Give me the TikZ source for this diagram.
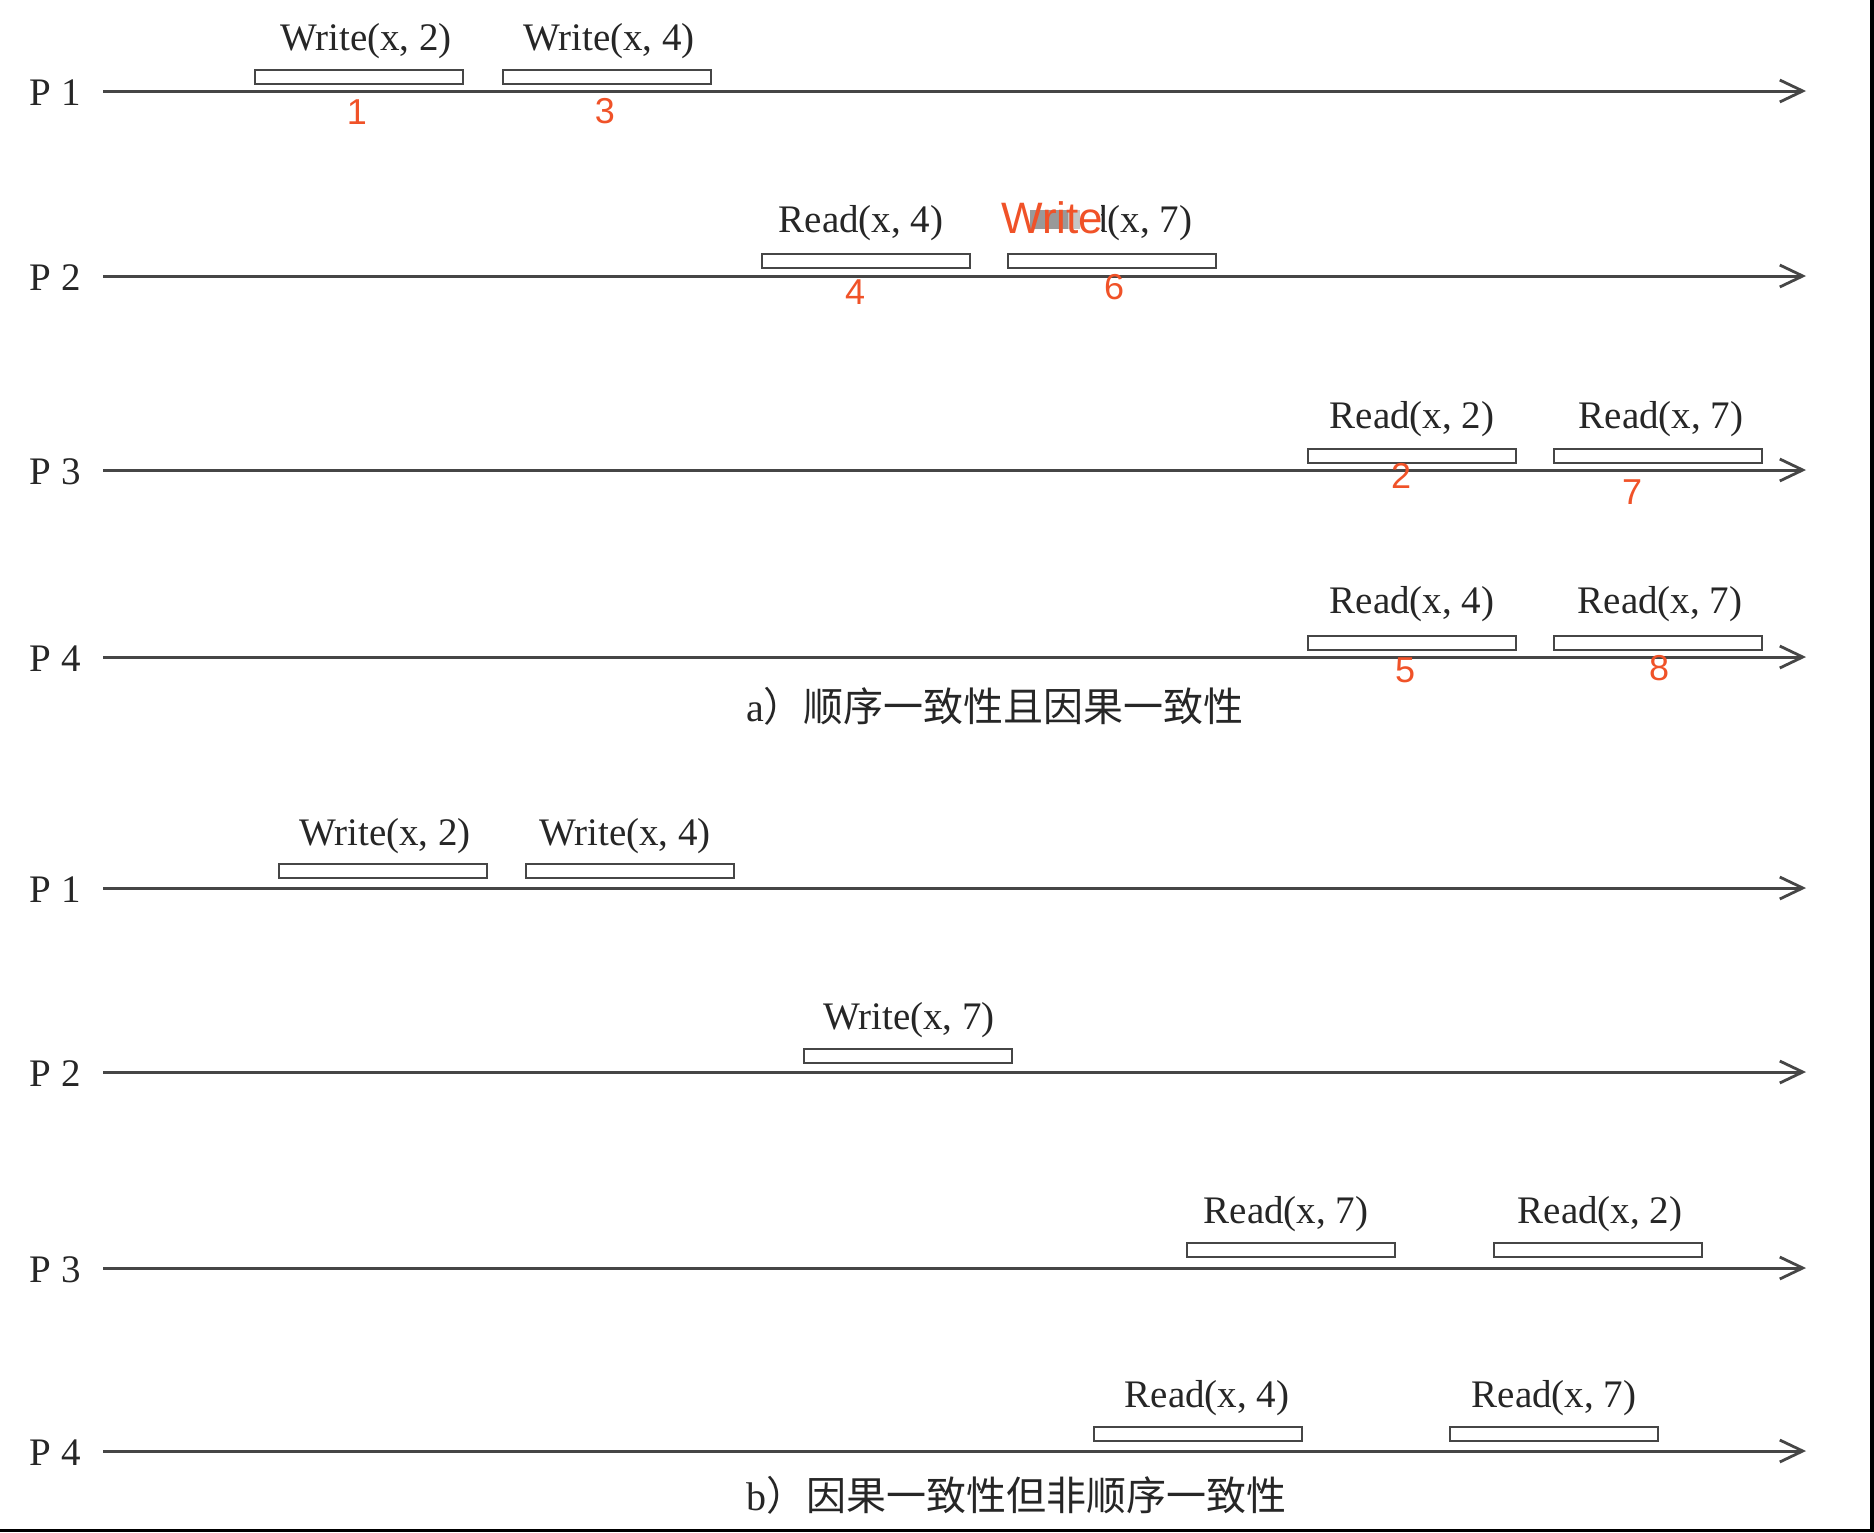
\documentclass[tikz,border=0pt]{standalone}
\usepackage{fontspec}
\setmainfont{Liberation Serif}
\setsansfont{Liberation Sans}
\newfontfamily\cjk{Noto Sans CJK SC}
\usetikzlibrary{arrows.meta}
\definecolor{ann}{RGB}{240,82,40}
\definecolor{ln}{RGB}{70,70,70}
\begin{document}
\begin{tikzpicture}[x=0.5pt,y=-0.5pt,
  tl/.style={draw=ln, line width=1.5pt, -{Straight Barb[length=11.5pt,width=11pt,line width=1.4pt]}},
  opbox/.style={draw=ln, line width=1pt, minimum width=104pt, minimum height=7pt, inner sep=0pt, fill=white},
  lbl/.style={anchor=base, inner sep=0pt, font=\fontsize{19.5}{20}\selectfont, text=black!85},
  plbl/.style={anchor=base west, inner sep=0pt, font=\fontsize{19.5}{20}\selectfont, text=black!85},
  num/.style={inner sep=0pt, font=\sffamily\fontsize{18}{18}\selectfont, text=ann},
  capt/.style={inner sep=0pt, font=\fontsize{20}{22}\selectfont, text=black!85}]

\useasboundingbox (0,0) rectangle (1874,1532);
\fill[white] (0,0) rectangle (1874,1532);
\fill[black] (1870,0) rectangle (1874,1532);
\fill[black] (0,1529) rectangle (1874,1532);

% ---------- panel a ----------
\foreach \n/\y in {1/91,2/276,3/470,4/657}{
  \coordinate (a\n s) at (103,\y);
  \coordinate (a\n e) at (1806,\y);
  \draw[tl] (a\n s) -- (a\n e);
  \node[plbl] (aP\n) at (29,\y+14) {P\kern5pt\n};
}
% boxes
\node[opbox] (ab11) at (359,76.5) {};
\node[opbox] (ab12) at (606.5,76.5) {};
\node[opbox] (ab21) at (865.5,261) {};
\node[opbox] (ab22) at (1111.5,261) {};
\node[opbox] (ab31) at (1412,456) {};
\node[opbox] (ab32) at (1658,456) {};
\node[opbox] (ab41) at (1411.5,643) {};
\node[opbox] (ab42) at (1658,643) {};
% texts
\node[lbl] (at11) at (366,50) {Write(x, 2)};
\node[lbl] (at12) at (609,50) {Write(x, 4)};
\node[lbl] (at21) at (861,232) {Read(x, 4)};
\node[lbl] (at22) at (1110,232) {Read(x, 7)};
\fill[white] (1018,198) rectangle (1101,238);
\fill[gray!80] (1030,210) rectangle (1068,229);
\fill[gray!45] (1068,210) rectangle (1080,229);
\node[anchor=base, inner sep=0pt, font=\sffamily\fontsize{22}{22}\selectfont, text=ann] (aw) at (1052.5,233) {Write};
\node[lbl] (at31) at (1412,428) {Read(x, 2)};
\node[lbl] (at32) at (1661,428) {Read(x, 7)};
\node[lbl] (at41) at (1412,613) {Read(x, 4)};
\node[lbl] (at42) at (1660,613) {Read(x, 7)};
% orange numbers
\node[num] (n1) at (357,112) {1};
\node[num] (n3) at (605,111) {3};
\node[num] (n4) at (855,292) {4};
\node[num] (n6) at (1114,287) {6};
\node[num] (n2) at (1401,476) {2};
\node[num] (n7) at (1632,492) {7};
\node[num] (n5) at (1405,670) {5};
\node[num] (n8) at (1659,668) {8};
\node[capt] (capa) at (995,706) {a{\cjk ）顺序一致性且因果一致性}};

% ---------- panel b ----------
\foreach \n/\y in {1/888,2/1072,3/1268,4/1451}{
  \coordinate (b\n s) at (103,\y);
  \coordinate (b\n e) at (1806,\y);
  \draw[tl] (b\n s) -- (b\n e);
  \node[plbl] (bP\n) at (29,\y+14) {P\kern5pt\n};
}
\node[opbox] (bb11) at (383,871) {};
\node[opbox] (bb12) at (630,871) {};
\node[opbox] (bb21) at (908,1055.5) {};
\node[opbox] (bb31) at (1290.5,1250) {};
\node[opbox] (bb32) at (1598,1250) {};
\node[opbox] (bb41) at (1198,1434) {};
\node[opbox] (bb42) at (1553.5,1434) {};
\node[lbl] (bt11) at (385,845) {Write(x, 2)};
\node[lbl] (bt12) at (625,845) {Write(x, 4)};
\node[lbl] (bt21) at (909,1029) {Write(x, 7)};
\node[lbl] (bt31) at (1286,1223) {Read(x, 7)};
\node[lbl] (bt32) at (1600,1223) {Read(x, 2)};
\node[lbl] (bt41) at (1207,1407) {Read(x, 4)};
\node[lbl] (bt42) at (1554,1407) {Read(x, 7)};
\node[capt] (capb) at (1016,1495) {b{\cjk ）因果一致性但非顺序一致性}};
\end{tikzpicture}
\end{document}
